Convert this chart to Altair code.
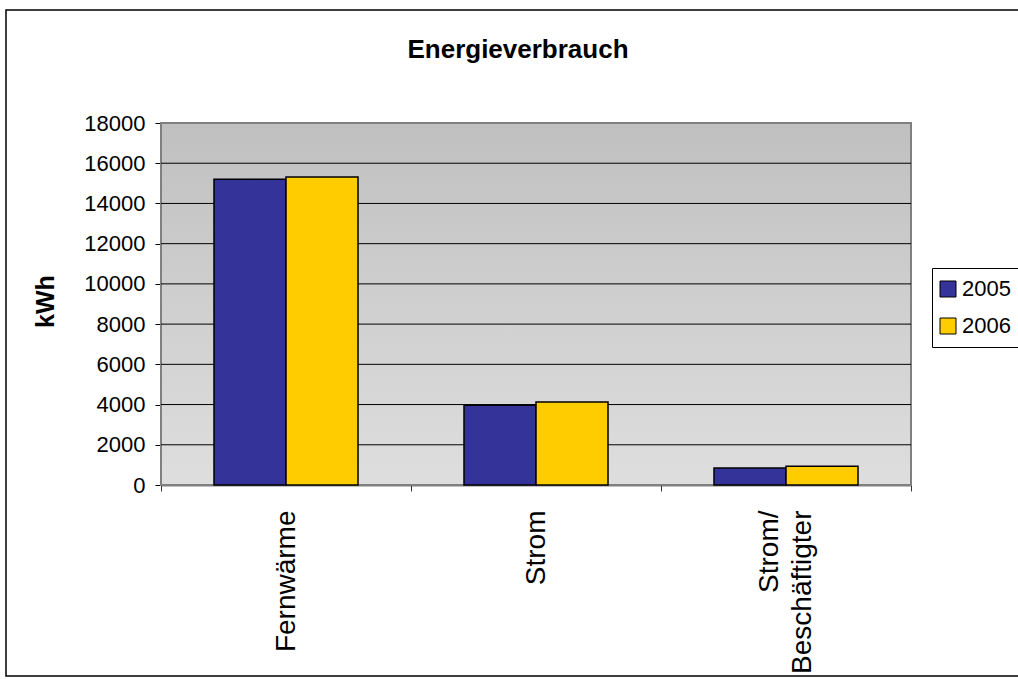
import altair as alt
import pandas as pd

categories = ["Fernwärme", "Strom", "Strom/Beschäftigter"]
years = ["2005", "2006"]
values_2005 = [15200, 3970, 850]
values_2006 = [15320, 4130, 930]
y_ticks = [0, 2000, 4000, 6000, 8000, 10000, 12000, 14000, 16000, 18000]
grid_values = [2000, 4000, 6000, 8000, 10000, 12000, 14000, 16000]
colors = ["#333399", "#FFCC00"]

rows = []
for c, v5, v6 in zip(categories, values_2005, values_2006):
    rows.append({"Kategorie": c, "Jahr": "2005", "kWh": v5})
    rows.append({"Kategorie": c, "Jahr": "2006", "kWh": v6})
df = pd.DataFrame(rows)
grid_df = pd.DataFrame({"kWh": grid_values})

FONT = "Liberation Sans"
W, H = 750, 362

y_scale = alt.Scale(domain=[0, 18000], nice=False)
y_axis = alt.Axis(
    values=y_ticks,
    format="d",
    title="kWh",
    titleFont=FONT,
    titleFontSize=25,
    titleFontWeight="bold",
    titleColor="black",
    titleX=-116,
    titleY=178,
    titleAlign="center",
    titleBaseline="middle",
    titleAngle=-90,
    labelFont=FONT,
    labelFontSize=22,
    labelColor="black",
    labelPadding=10,
    tickSize=6,
    tickColor="black",
    domainColor="black",
    domainWidth=1.5,
    grid=False,
)

bars = alt.Chart(df).mark_bar(stroke="black", strokeWidth=1.5).encode(
    x=alt.X(
        "Kategorie:N",
        sort=categories,
        scale=alt.Scale(paddingInner=0, paddingOuter=0),
        axis=alt.Axis(
            title=None,
            labelAngle=-90,
            labelAlign="right",
            labelBaseline="middle",
            labelFontSize=28,
            labelFont=FONT,
            labelColor="black",
            labelPadding=19,
            labelLineHeight=33,
            labelOffset={"condition": {"test": "datum.value == 'Strom/Beschäftigter'", "value": -17}, "value": 0},
            labelExpr="datum.label == 'Strom/Beschäftigter' ? ['Strom/', 'Beschäftigter'] : datum.label",
            tickBand="extent",
            tickSize=6,
            tickColor="#333333",
            domainColor="black",
            domainWidth=1.5,
            grid=False,
        ),
    ),
    xOffset=alt.XOffset("Jahr:N", scale=alt.Scale(paddingInner=0, paddingOuter=0.736)),
    y=alt.Y("kWh:Q", scale=y_scale, axis=y_axis),
    color=alt.Color(
        "Jahr:N",
        scale=alt.Scale(domain=years, range=colors),
        legend=alt.Legend(
            title=None,
            orient="none",
            legendX=771,
            legendY=145,
            symbolType="square",
            symbolSize=256,
            symbolStrokeColor="black",
            symbolStrokeWidth=1,
            symbolOffset=-5,
            labelFont=FONT,
            labelFontSize=22,
            labelColor="black",
            labelOffset=3,
            rowPadding=15,
            padding=10,
            strokeColor="black",
            fillColor="white",
        ),
    ),
)

background = alt.Chart(alt.Data(values=[{}])).mark_rect(
    fill=alt.LinearGradient(
        gradient="linear",
        x1=0, x2=0, y1=0, y2=1,
        stops=[
            alt.GradientStop(offset=0, color="#c0c0c0"),
            alt.GradientStop(offset=1, color="#dedede"),
        ],
    ),
    stroke="#808080",
    strokeWidth=2,
).encode(x=alt.value(0), x2=alt.value(W), y=alt.value(0), y2=alt.value(H))

grid = alt.Chart(grid_df).mark_rule(color="#000000", strokeWidth=1).encode(
    y=alt.Y("kWh:Q", scale=y_scale, axis=y_axis),
    x=alt.value(0),
    x2=alt.value(W),
)

border = alt.Chart(alt.Data(values=[{}])).mark_rect(
    fill=None, stroke="black", strokeWidth=1.5
).encode(
    x=alt.value(-155), x2=alt.value(1100), y=alt.value(-113), y2=alt.value(553)
)

chart = alt.layer(border, background, grid, bars).properties(
    width=W,
    height=H,
    title=alt.TitleParams(
        text="Energieverbrauch",
        font=FONT,
        fontSize=26,
        fontWeight="bold",
        color="black",
        anchor="middle",
        dx=-18,
        offset=-54,
    ),
    autosize=alt.AutoSizeParams(type="none"),
    padding={"left": 161, "top": 123, "right": 107, "bottom": 194},
).configure_view(stroke=None).configure(background="white")

chart.save("out.html", embed_options={"renderer": "svg", "actions": False})
